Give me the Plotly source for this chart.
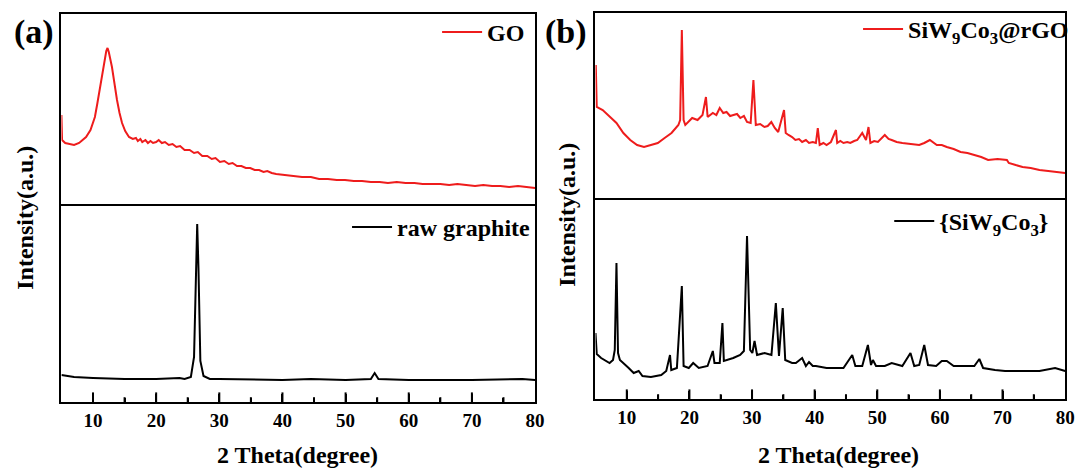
import plotly.graph_objects as go

# ---------------- data (2 Theta in degree, intensity in a.u.) ----------------
go_x = [5.0, 5.1, 5.6, 6.2, 7.0, 7.8, 8.9, 9.6, 10.3, 10.7, 11.1, 11.5, 11.9, 12.1, 12.3, 12.5, 13.0, 13.4,
        13.8, 14.2, 14.6, 15.1, 15.7, 16.3, 16.8, 17.1, 17.5, 17.8, 18.3, 18.7, 19.1, 19.5, 20.0, 20.4,
        20.9, 21.4, 22.0, 22.6, 23.2, 23.8, 24.5, 25.3, 26.0, 26.6, 27.3, 28.1, 28.8, 29.4, 30.1, 30.8,
        31.5, 32.1, 32.8, 33.5, 34.2, 34.9, 35.6, 36.3, 37.0, 37.6, 38.3, 39.0, 40.4, 41.8, 43.1, 44.5,
        45.8, 47.2, 48.6, 49.9, 51.3, 52.6, 54.0, 55.4, 56.7, 58.1, 59.5, 60.9, 62.2, 63.6, 65.0, 66.4,
        67.7, 69.1, 70.5, 71.8, 73.2, 74.5, 75.9, 77.3, 78.6, 80.0]
go_y = [91, 66, 63, 62, 61, 63, 69, 76, 89, 103, 119, 135, 149, 155, 158, 154, 139, 122,
        106, 93, 83, 75, 69, 67, 68, 65, 67, 64, 66, 63, 65, 63, 64, 66,
        63, 64, 61, 62, 59, 60, 56, 56, 53, 54, 50, 50, 47, 48, 44, 45,
        42, 43, 40, 40, 38, 38, 36, 36, 34, 35, 33, 32, 31, 30, 29, 29,
        27, 27, 26, 26, 25, 25, 24, 24, 23, 24, 23, 23, 22, 22, 22, 21,
        22, 21, 20, 21, 20, 20, 19, 20, 19, 18]

graphite_x = [5.0, 7.0, 10.0, 15.0, 20.0, 23.7, 24.5, 25.5, 26.0, 26.3, 26.5, 26.7, 27.0, 27.5, 28.5,
              30.0, 40.0, 44.5, 50.0, 54.0, 54.6, 55.2, 60.0, 70.0, 78.0, 80.0]
graphite_y = [27, 25, 24, 23, 23, 24, 23, 25, 45, 134, 178, 134, 41, 26, 23,
              23, 22, 23, 22, 23, 29, 23, 22, 22, 23, 22]

rgo_x = [5.05, 5.2, 6.15, 7.25, 8.35, 9.45, 10.55, 11.65, 12.75, 13.85, 14.95, 16.04, 17.14, 18.24,
         18.52, 18.79, 19.07, 19.34, 20.44, 21.3, 22.09, 22.64, 22.91, 23.74, 24.3, 24.84, 25.4, 25.93,
         26.5, 27.03, 27.6, 28.13, 28.7, 29.2, 29.78, 30.22, 30.6, 31.3, 31.98, 32.5, 33.08, 33.63,
         34.18, 35.11, 35.38, 35.82, 36.4, 36.92, 37.5, 38.0, 38.6, 39.1, 39.7, 40.2, 40.5, 40.8, 41.4,
         41.9, 42.6, 43.4, 43.6, 44.1, 44.6, 45.2, 45.7, 46.3, 46.8, 47.6, 48.2, 48.6, 48.9, 49.5, 50.1,
         51.2, 51.8, 52.3, 53.1, 54.0, 55.3, 56.7, 57.5, 58.4, 59.5, 60.3, 61.1, 62.2, 63.3, 64.4, 65.5,
         66.6, 67.7, 69.2, 70.7, 71.0, 72.1, 73.2, 74.5, 75.9, 77.3, 78.7, 80.0]
rgo_y = [135, 93, 90, 83, 77, 67, 60, 55, 53, 55, 57, 62, 67, 75,
         80, 170, 80, 75, 82, 80, 85, 103, 83, 87, 85, 92, 87, 88,
         84, 85, 86, 82, 84, 78, 77, 120, 75, 76, 73, 74, 78, 72,
         68, 90, 67, 65, 63, 60, 61, 58, 60, 57, 58, 57, 72, 55, 57,
         55, 58, 70, 57, 59, 57, 58, 57, 59, 60, 67, 60, 73, 57, 59, 58,
         65, 61, 60, 58, 57, 56, 55, 57, 60, 55, 55, 53, 51, 48, 47, 45,
         43, 40, 41, 40, 37, 35, 33, 32, 30, 29, 28, 27]

siw_x = [5.0, 5.2, 5.9, 6.7, 7.25, 7.8, 8.08, 8.35, 8.6, 8.9, 9.45, 10.3, 11.1, 11.9, 12.5, 13.85,
         15.5, 16.3, 16.9, 17.1, 18.0, 18.79, 19.07, 19.9, 20.6, 21.5, 22.9, 23.74, 24.0, 24.84,
         25.27, 25.5, 27.0, 28.1, 28.7, 29.2, 29.7, 30.05, 30.4, 30.8, 32.0, 33.1, 33.8, 34.3, 34.9,
         35.3, 36.4, 37.0, 38.0, 38.6, 39.1, 39.7, 40.2, 41.9, 43.5, 44.6, 46.0, 46.5, 47.6, 48.5,
         49.0, 49.3, 49.8, 51.2, 52.3, 54.0, 55.3, 55.9, 56.7, 57.5, 58.1, 59.4, 60.3, 61.1, 62.2,
         63.8, 65.5, 66.3, 66.9, 68.8, 70.4, 73.2, 75.9, 78.4, 80.0]
siw_y = [66, 45, 41, 38, 36, 39, 49, 136, 46, 39, 36, 31, 26, 28, 23, 22,
         24, 28, 44, 29, 31, 113, 33, 31, 36, 31, 33, 48, 36, 36,
         76, 38, 41, 44, 48, 163, 49, 46, 58, 44, 46, 44, 96, 43, 91,
         39, 36, 36, 41, 33, 37, 33, 33, 31, 31, 31, 44, 33, 33, 54,
         34, 39, 33, 33, 36, 33, 46, 33, 34, 54, 34, 33, 38, 38, 33,
         33, 33, 40, 31, 29, 28, 28, 28, 31, 28]

major_ticks = [10, 20, 30, 40, 50, 60, 70]
minor_ticks = [15, 25, 35, 45, 55, 65, 75]
labels = {"go": "GO", "graphite": "raw graphite",
          "rgo": "SiW<sub>9</sub>Co<sub>3</sub>@rGO", "siw": "{SiW<sub>9</sub>Co<sub>3</sub>}"}

# ---------------- figure ----------------
W, H = 1090, 468
FONT = "Liberation Serif"
RED = "#ee1c1c"
MAJOR_LEN, MINOR_LEN = 8, 4


def px_x(p):
    return p / W


def px_y(p):
    return 1 - p / H


fig = go.Figure()
fig.add_trace(go.Scatter(x=go_x, y=go_y, mode="lines", name=labels["go"],
                         line=dict(color=RED, width=2), xaxis="x", yaxis="y", legend="legend"))
fig.add_trace(go.Scatter(x=graphite_x, y=graphite_y, mode="lines", name=labels["graphite"],
                         line=dict(color="black", width=2), xaxis="x2", yaxis="y2", legend="legend2"))
fig.add_trace(go.Scatter(x=rgo_x, y=rgo_y, mode="lines", name=labels["rgo"],
                         line=dict(color=RED, width=2), xaxis="x3", yaxis="y3", legend="legend3"))
fig.add_trace(go.Scatter(x=siw_x, y=siw_y, mode="lines", name=labels["siw"],
                         line=dict(color="black", width=2), xaxis="x4", yaxis="y4", legend="legend4"))

# inward tick marks on the bottom axes (y range is in pixels, so y = half the tick length)
for xa, ya in [("x2", "y2"), ("x4", "y4")]:
    for vals, ln in [(major_ticks, MAJOR_LEN), (minor_ticks, MINOR_LEN)]:
        fig.add_trace(go.Scatter(x=vals, y=[ln / 2] * len(vals), mode="markers", showlegend=False,
                                 hoverinfo="skip", xaxis=xa, yaxis=ya, cliponaxis=False,
                                 marker=dict(symbol="line-ns", size=ln, color="black",
                                             line=dict(width=2, color="black"))))

xa_dom = [px_x(62), px_x(540)]
xb_dom = [px_x(601), px_x(1075)]


def bottom_x(dom, anchor):
    return dict(domain=dom, range=[5, 80], anchor=anchor, showline=True, linewidth=2, linecolor="black",
                mirror=True, ticks="inside", ticklen=MAJOR_LEN, tickwidth=2, tickcolor="black",
                dtick=10, tick0=10, showgrid=False, zeroline=False,
                minor=dict(ticks="inside", ticklen=MINOR_LEN, tickwidth=2, dtick=5, tickcolor="black"),
                tickfont=dict(family=FONT, size=19, color="black", weight="bold"))


def top_x(dom, anchor):
    return dict(domain=dom, range=[5, 80], anchor=anchor, side="top", showline=True, linewidth=2,
                linecolor="black", showgrid=False, zeroline=False, showticklabels=False)


def yax(dom, anchor, h):
    return dict(domain=dom, range=[0, h], anchor=anchor, showline=True, linewidth=2, linecolor="black",
                mirror=True, showgrid=False, zeroline=False, showticklabels=False)


fig.update_layout(
    width=W, height=H, margin=dict(l=0, r=0, t=0, b=0),
    plot_bgcolor="white",
    xaxis=top_x(xa_dom, "y"),
    yaxis=yax([px_y(206), px_y(14)], "x", 192),
    xaxis2=bottom_x(xa_dom, "y2"),
    yaxis2=yax([px_y(402), px_y(206)], "x2", 196),
    xaxis3=top_x(xb_dom, "y3"),
    yaxis3=yax([px_y(200), px_y(13)], "x3", 187),
    xaxis4=bottom_x(xb_dom, "y4"),
    yaxis4=yax([px_y(399), px_y(200)], "x4", 199),
)


def leg(xr, ytop):
    return dict(x=px_x(xr), y=px_y(ytop), xanchor="right", yanchor="top", bgcolor="rgba(0,0,0,0)",
                font=dict(family=FONT, size=24, color="black", weight="bold"), itemwidth=40)


fig.update_layout(showlegend=True, legend=leg(535, 10), legend2=leg(540, 205),
                  legend3=leg(1084, 7), legend4=leg(1064, 199))

anns = [
    dict(text="(a)", x=px_x(34), y=px_y(32), size=34),
    dict(text="(b)", x=px_x(571), y=px_y(32), size=34),
    dict(text="2 Theta(degree)", x=px_x(300), y=px_y(455), size=24),
    dict(text="2 Theta(degree)", x=px_x(846), y=px_y(455), size=24),
]
for a in anns:
    fig.add_annotation(text=a["text"], x=a["x"], y=a["y"], xref="paper", yref="paper",
                       xanchor="center", yanchor="middle", showarrow=False,
                       font=dict(family=FONT, size=a["size"], color="black", weight="bold"))
for xc, yc in [(25, 218), (572, 215)]:
    fig.add_annotation(text="Intensity(a.u.)", x=px_x(xc), y=px_y(yc), xref="paper", yref="paper",
                       xanchor="center", yanchor="middle", showarrow=False, textangle=-90,
                       font=dict(family=FONT, size=24, color="black", weight="bold"))

fig.write_html("out.html", config={"displayModeBar": False},
               post_script="document.body.style.margin='0px';")
